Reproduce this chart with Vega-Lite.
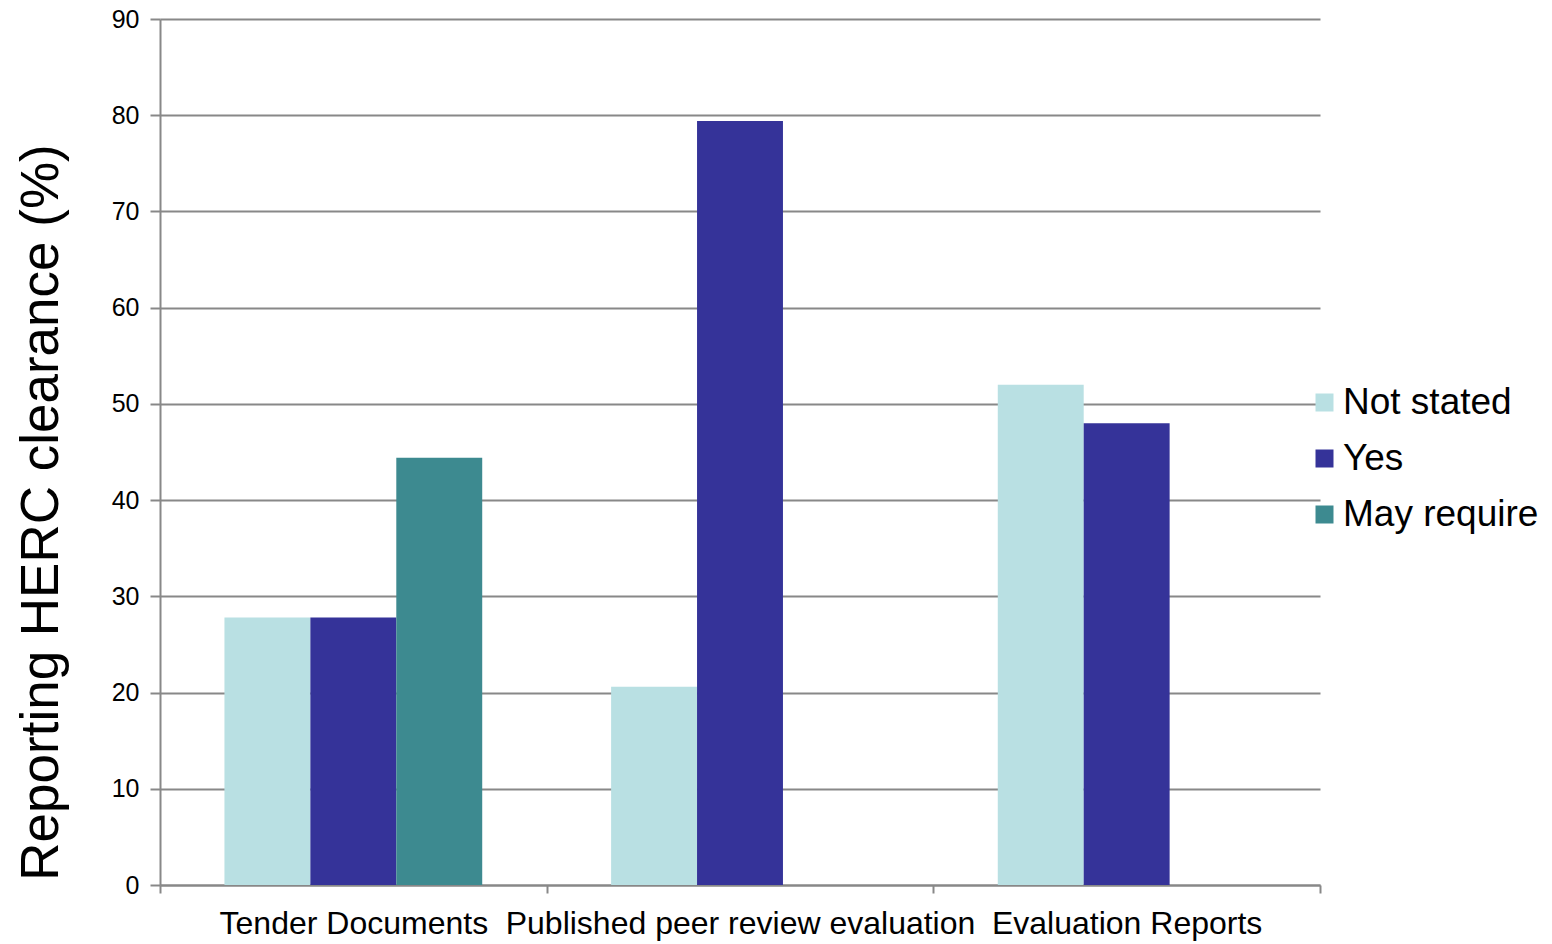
{
  "$schema": "https://vega.github.io/schema/vega-lite/v6.json",
  "autosize": {"type": "none"},
  "padding": {"left": 160, "top": 19, "right": 232, "bottom": 59},
  "width": 1160,
  "height": 866,
  "background": "white",
  "config": {
    "font": "Liberation Sans",
    "view": {"stroke": null}
  },
  "data": {
    "values": [
      {"source": "Tender Documents", "status": "Not stated", "pct": 27.8},
      {"source": "Tender Documents", "status": "Yes", "pct": 27.8},
      {"source": "Tender Documents", "status": "May require", "pct": 44.4},
      {"source": "Published peer review evaluation", "status": "Not stated", "pct": 20.6},
      {"source": "Published peer review evaluation", "status": "Yes", "pct": 79.4},
      {"source": "Evaluation Reports", "status": "Not stated", "pct": 52.0},
      {"source": "Evaluation Reports", "status": "Yes", "pct": 48.0}
    ]
  },
  "mark": {"type": "bar"},
  "encoding": {
    "x": {
      "field": "source",
      "type": "nominal",
      "sort": ["Tender Documents", "Published peer review evaluation", "Evaluation Reports"],
      "scale": {"paddingInner": 0, "paddingOuter": 0},
      "axis": {
        "title": null,
        "labelAngle": 0,
        "labelFontSize": 32,
        "labelColor": "#000000",
        "labelPadding": 15,
        "labelLimit": 0,
        "tickBand": "extent",
        "tickSize": 8,
        "tickColor": "#888888",
        "domainColor": "#888888",
        "domainWidth": 2,
        "tickWidth": 2,
        "grid": false
      }
    },
    "xOffset": {
      "field": "status",
      "type": "nominal",
      "sort": ["Not stated", "Yes", "May require"],
      "scale": {"domain": ["Not stated", "Yes", "May require"], "paddingInner": 0, "paddingOuter": 0.75}
    },
    "y": {
      "field": "pct",
      "type": "quantitative",
      "scale": {"domain": [0, 90], "nice": false},
      "axis": {
        "values": [0, 10, 20, 30, 40, 50, 60, 70, 80, 90],
        "title": "Reporting HERC clearance (%)",
        "titleFontSize": 53,
        "titleFontWeight": "normal",
        "titleColor": "#000000",
        "titleX": -119,
        "titleY": 493,
        "titleAngle": -90,
        "titleAlign": "center",
        "titleBaseline": "middle",
        "labelFontSize": 25,
        "labelColor": "#000000",
        "labelPadding": 11,
        "tickSize": 10,
        "tickColor": "#888888",
        "tickWidth": 2,
        "domainColor": "#888888",
        "domainWidth": 2,
        "grid": true,
        "gridColor": "#888888",
        "gridWidth": 2
      }
    },
    "color": {
      "field": "status",
      "type": "nominal",
      "sort": ["Not stated", "Yes", "May require"],
      "scale": {"domain": ["Not stated", "Yes", "May require"], "range": ["#B9E0E3", "#353399", "#3D8A90"]},
      "legend": {
        "title": null,
        "orient": "none",
        "legendX": 1146,
        "legendY": 365,
        "symbolType": "square",
        "symbolSize": 324,
        "symbolStrokeWidth": 0,
        "labelFontSize": 37,
        "labelLimit": 0,
        "labelColor": "#000000",
        "labelOffset": 0,
        "rowPadding": 18
      }
    }
  }
}
